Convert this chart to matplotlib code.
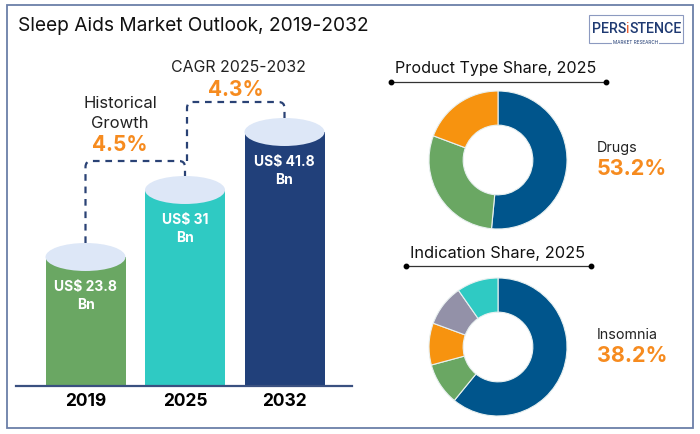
import matplotlib
matplotlib.use('Agg')
import matplotlib.pyplot as plt
from matplotlib.patches import Ellipse, Rectangle, PathPatch
from matplotlib.path import Path

years = ['2019', '2025', '2032']
bar_labels = ['US$ 23.8\nBn', 'US$ 31\nBn', 'US$ 41.8\nBn']
# drawn heights (the cylinders are not to scale)
bar_heights = [129, 196, 254]

product_names = ['Drugs', 'Other A', 'Other B']
product_share = [51.5, 29.2, 19.3]
indication_names = ['Insomnia', 'Other A', 'Other B', 'Other C', 'Other D']
indication_share = [60.9, 9.9, 9.8, 9.7, 9.7]

bar_colors = ['#6aa763', '#2fcac3', '#21407a']
product_colors = ['#00558c', '#6aa763', '#f7930f']
indication_colors = ['#00558c', '#6aa763', '#f7930f', '#9391a8', '#2fcac3']
ORANGE = '#f68b1f'
NAVY = '#2a4275'

plt.rcParams['font.family'] = ['Inter', 'DejaVu Sans']

fig = plt.figure(figsize=(7, 4.35), dpi=100)
ax = fig.add_axes([0, 0, 1, 1])
ax.set_xlim(0, 700)
ax.set_ylim(435, 0)
ax.axis('off')

# outer frame
ax.add_patch(Rectangle((6.5, 6), 686.5, 423, fc='white', ec='#6b7fa8', lw=1.3))

ax.text(18, 26, 'Sleep Aids Market Outlook, 2019-2032', fontsize=13.8, va='center', color='#111111')

# cylinders
base = 387
xs = [85.5, 185, 284.5]
width = 80
ax.bar(xs, [-h for h in bar_heights], bottom=base, width=width, color=bar_colors, zorder=2)
for x, h in zip(xs, bar_heights):
    ax.add_patch(Ellipse((x, base - h), width, 28, fc='#dde7f7', ec='none', zorder=3))
ax.plot([16, 352], [base, base], color='#3a5080', lw=1.6, zorder=4)

for x, h, lab, yr in zip(xs, bar_heights, bar_labels, years):
    ax.text(x, base - h + 38, lab, color='white', fontsize=10, fontweight='bold',
            ha='center', va='center', linespacing=1.4, zorder=5)
    ax.text(x, 402, yr, color='black', fontsize=12.5, fontweight='bold', ha='center', va='center')


def connector(x0, y0, x1, y1, top):
    # dashed elbow going up from one cylinder, across and down to the next
    r = 6
    verts = [(x0, y0), (x0, top + r), (x0, top), (x0 + r, top),
             (x1 - r, top), (x1, top), (x1, top + r), (x1, y1)]
    codes = [Path.MOVETO, Path.LINETO, Path.CURVE3, Path.CURVE3,
             Path.LINETO, Path.CURVE3, Path.CURVE3, Path.LINETO]
    ax.add_patch(PathPatch(Path(verts, codes), fc='none', ec=NAVY, lw=1.6,
                           ls=(0, (3, 2.6)), zorder=1))


tops = [base - h - 14 for h in bar_heights]
connector(xs[0], tops[0], xs[1], tops[1], 162)
connector(xs[1] + 2, 162, xs[2], tops[2], 103)

ax.text(120, 103, 'Historical', fontsize=12, ha='center', va='center', color='#222222')
ax.text(120, 124, 'Growth', fontsize=12, ha='center', va='center', color='#222222')
ax.text(120, 145, '4.5%', fontsize=15, fontweight='bold', ha='center', va='center', color=ORANGE)
ax.text(238, 67, 'CAGR 2025-2032', fontsize=11.4, ha='center', va='center', color='#222222')
ax.text(236, 90, '4.3%', fontsize=15, fontweight='bold', ha='center', va='center', color=ORANGE)


def donut(cy, values, colors, title, title_size, title_x, title_y, x0, x1, name, share_text):
    d = fig.add_axes([(498 - 69) / 700, 1 - (cy + 69) / 435, 138 / 700, 138 / 435])
    d.pie(values, colors=colors, startangle=90, counterclock=False, radius=1,
          wedgeprops=dict(width=0.495, edgecolor='#e8f0f0', linewidth=0.8))
    d.set_xlim(-1, 1)
    d.set_ylim(-1, 1)
    ax.text(title_x, title_y, title, fontsize=title_size, ha='center', va='center', color='#111111')
    ry = title_y + 13.5
    ax.plot([x0, x1], [ry, ry], color='#333333', lw=0.9)
    ax.plot([x0, x1], [ry, ry], ls='none', marker='o', ms=3.2, color='black')
    ax.text(597, cy - 13, name, fontsize=10.3, va='center', color='#222222')
    ax.text(597, cy + 8, share_text, fontsize=15.5, fontweight='bold', va='center', color=ORANGE)


donut(161, product_share, product_colors, 'Product Type Share, 2025', 11.6, 496, 69, 391, 606,
      product_names[0], '53.2%')
donut(348, indication_share, indication_colors, 'Indication Share, 2025', 11.8, 498, 253.5, 406, 591,
      indication_names[0], '38.2%')

# logo
ax.add_patch(Rectangle((588.5, 15.5), 94.5, 28.5, fc='white', ec='#8c9ac0', lw=0.8))
logo_font = ['Roboto', 'DejaVu Sans']
t1 = ax.text(592, 29, 'PERS', fontsize=10.3, color='#1f3a72', family=logo_font, va='center', fontweight='medium')
t2 = ax.annotate('i', xy=(1, 0), xycoords=t1, va='bottom', fontsize=10.3, color='#e8501e', family=logo_font)
ax.annotate('STENCE', xy=(1, 0), xycoords=t2, va='bottom', fontsize=10.3, color='#1f3a72', family=logo_font,
            fontweight='medium')
ax.text(635.5, 43, 'MARKET RESEARCH', fontsize=3.4, ha='center', va='center', color='#1f3a72',
        bbox=dict(fc='white', ec='none', pad=1))

fig.savefig('out.png', dpi=100)
